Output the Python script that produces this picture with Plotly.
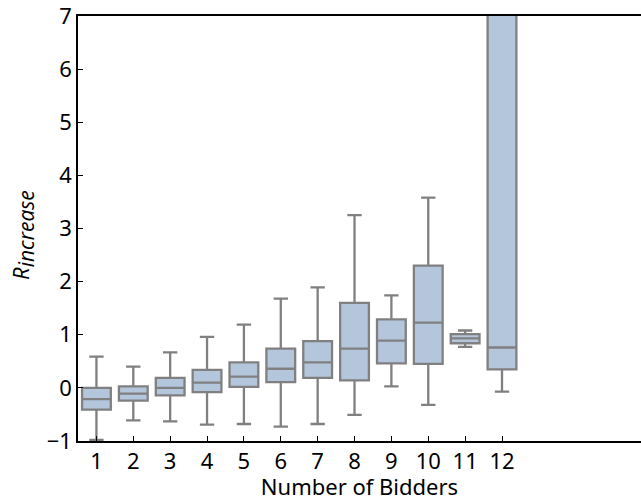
import plotly.graph_objects as go

# Summary statistics of R_increase per number of bidders
bidders = [1, 2, 3, 4, 5, 6, 7, 8, 9, 10, 11, 12]
lower_whisker = [-0.98, -0.61, -0.63, -0.69, -0.68, -0.73, -0.68, -0.51, 0.03, -0.32, 0.77, -0.07]
q1_values = [-0.41, -0.24, -0.14, -0.08, 0.02, 0.11, 0.19, 0.14, 0.46, 0.45, 0.84, 0.35]
medians = [-0.21, -0.11, 0.00, 0.10, 0.21, 0.36, 0.48, 0.74, 0.89, 1.23, 0.93, 0.76]
q3_values = [0.00, 0.03, 0.19, 0.34, 0.48, 0.74, 0.88, 1.60, 1.29, 2.30, 1.01, 8.60]
upper_whisker = [0.59, 0.40, 0.67, 0.96, 1.19, 1.68, 1.89, 3.25, 1.74, 3.58, 1.08, 12.0]

y_ticks = [-1, 0, 1, 2, 3, 4, 5, 6, 7]

FONT = "Noto Sans, sans-serif"

fig = go.Figure(
    go.Box(
        x=bidders,
        q1=q1_values,
        median=medians,
        q3=q3_values,
        lowerfence=lower_whisker,
        upperfence=upper_whisker,
        width=0.78,
        whiskerwidth=0.5,
        fillcolor="rgb(180,198,220)",
        line=dict(color="rgb(128,128,128)", width=2.3),
        boxpoints=False,
        showlegend=False,
    )
)

fig.update_layout(
    width=641,
    height=501,
    margin=dict(l=78, r=0, t=16, b=60),
    plot_bgcolor="white",
    paper_bgcolor="white",
    font=dict(family=FONT, size=22, color="black"),
    xaxis=dict(
        range=[0.5, 15.77],
        tickmode="array",
        tickvals=bidders,
        ticktext=[str(b) for b in bidders],
        ticks="inside",
        ticklen=5,
        tickcolor="black",
        showline=True,
        linecolor="black",
        linewidth=1.5,
        mirror=True,
        showgrid=False,
        zeroline=False,
        tickfont=dict(size=22),
        title=dict(text="Number of Bidders", font=dict(size=22), standoff=1),
        automargin=False,
    ),
    yaxis=dict(
        range=[-1, 7],
        tickmode="array",
        tickvals=y_ticks,
        ticks="inside",
        ticklen=5,
        tickcolor="black",
        showline=True,
        linecolor="black",
        linewidth=1.5,
        showgrid=False,
        zeroline=False,
        ticklabeloverflow="allow",
        tickfont=dict(size=22),
        automargin=False,
    ),
    annotations=[
        dict(
            text='<i>R</i><sub><span style="font-size:21px"><i>increase</i></span></sub>',
            font=dict(family="Open Sans, sans-serif", size=22, color="black"),
            textangle=-90,
            xref="paper",
            yref="paper",
            x=0,
            y=0.485,
            xanchor="center",
            yanchor="middle",
            xshift=-55,
            showarrow=False,
        )
    ],
)

fig.write_html("out.html")
